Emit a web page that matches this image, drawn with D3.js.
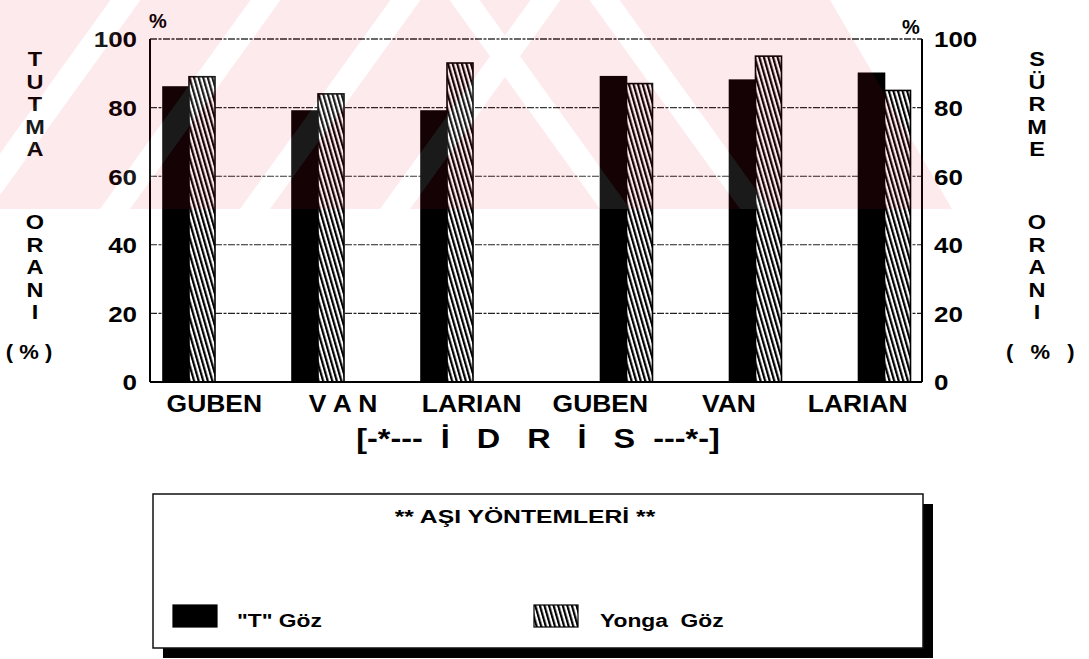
<!DOCTYPE html>
<html>
<head>
<meta charset="utf-8">
<script src="https://cdn.jsdelivr.net/npm/d3@7"></script>
<style>
  body { margin: 0; background: #fff; }
  svg { display: block; }
  text { font-family: "Liberation Sans", Arial, sans-serif; font-weight: bold; fill: #000; }
</style>
</head>
<body>
<svg id="chart" width="1089" height="659"></svg>
<script>
// ---- data ----
const categories = ["GUBEN", "V A N", "LARIAN", "GUBEN", "VAN", "LARIAN"];
const tGoz = [86, 79, 79, 89, 88, 90];        // "T" Göz (left axis, tutma oranı)
const yongaGoz = [89, 84, 93, 87, 95, 85];    // Yonga Göz (right axis, sürme oranı)
const seriesNames = ['"T" Göz', "Yonga  Göz"];
const yTicks = [0, 20, 40, 60, 80, 100];
const leftTitleWords = ["TUTMA", "ORANI"];
const rightTitleWords = ["SÜRME", "ORANI"];
const unitLabel = "( % )";
const groupLabel = "[-*---  İ   D   R   İ   S  ---*-]";
const legendTitle = "** AŞI YÖNTEMLERİ **";

// ---- layout ----
const W = 1089, H = 659;
const plot = { left: 150, right: 922, top: 39, bottom: 382 };
const SX = 1.18; // wide lettering of the plotter font

const svg = d3.select("#chart");

const defs = svg.append("defs");
const hatch = defs.append("pattern")
  .attr("id", "hatch")
  .attr("patternUnits", "userSpaceOnUse")
  .attr("width", 4.4).attr("height", 20)
  .attr("patternTransform", "rotate(-16)");
hatch.append("rect").attr("width", 4.4).attr("height", 20).attr("fill", "#fff");
hatch.append("rect").attr("width", 2.2).attr("height", 20).attr("fill", "#000");

const y = d3.scaleLinear().domain([0, 100]).range([plot.bottom, plot.top]);

// two blocks of three cultivars with a wider gap between the blocks
const blockOf = i => Math.floor(i / 3);
const xBlock = d3.scaleBand().domain([0, 1]).range([124.5, 949]).paddingInner(0.1154);
const xInner = d3.scaleBand().domain([0, 1, 2]).range([0, xBlock.bandwidth()]);
const center = i => xBlock(blockOf(i)) + xInner(i % 3) + xInner.bandwidth() / 2;
const xSeries = d3.scaleBand().domain([0, 1]).range([-26, 26]);
// category names are spread evenly under the axis
const xLabel = d3.scaleBand().domain(d3.range(categories.length)).range([plot.left, plot.right]);

function wideText(sel, x, yPos, sx) {
  return sel.attr("transform", `translate(${x},${yPos}) scale(${sx},1)`);
}

// ---- grid ----
svg.append("g")
  .selectAll("line")
  .data(yTicks.filter(t => t > 0))
  .join("line")
  .attr("x1", plot.left).attr("x2", plot.right)
  .attr("y1", d => y(d)).attr("y2", d => y(d))
  .attr("stroke", "#222")
  .attr("stroke-width", d => d === 100 ? 1.6 : 1.1)
  .attr("stroke-dasharray", "7,1.5,3,1.5");

// ---- bars ----
const rows = categories.map((c, i) => ({ i, c, vals: [tGoz[i], yongaGoz[i]] }));
const gBars = svg.append("g");
gBars.selectAll("g")
  .data(rows)
  .join("g")
  .attr("transform", d => `translate(${center(d.i)},0)`)
  .selectAll("rect")
  .data(d => d.vals.map((v, s) => ({ v, s })))
  .join("rect")
  .attr("x", d => xSeries(d.s))
  .attr("width", xSeries.bandwidth())
  .attr("y", d => y(d.v))
  .attr("height", d => y(0) - y(d.v))
  .attr("fill", d => d.s === 0 ? "#000" : "url(#hatch)")
  .attr("stroke", "#000")
  .attr("stroke-width", 1.6);

// ---- frame ----
const frame = svg.append("g").attr("stroke", "#000").attr("fill", "none");
frame.append("line").attr("x1", plot.left).attr("x2", plot.left).attr("y1", plot.top).attr("y2", plot.bottom).attr("stroke-width", 2);
frame.append("line").attr("x1", plot.right).attr("x2", plot.right).attr("y1", plot.top).attr("y2", plot.bottom).attr("stroke-width", 2);
frame.append("line").attr("x1", plot.left).attr("x2", plot.right).attr("y1", plot.bottom).attr("y2", plot.bottom).attr("stroke-width", 2);

// ---- axes ----
const axisL = svg.append("g").attr("transform", `translate(${plot.left},0)`)
  .call(d3.axisLeft(y).tickValues(yTicks).tickSize(0).tickPadding(0));
axisL.select(".domain").remove();
axisL.selectAll("text").attr("font-size", 22).attr("font-family", null)
  .attr("x", null).attr("dy", "0.36em")
  .attr("transform", `translate(-13,0) scale(${SX},1)`);

const axisR = svg.append("g").attr("transform", `translate(${plot.right},0)`)
  .call(d3.axisRight(y).tickValues(yTicks).tickSize(0).tickPadding(0));
axisR.select(".domain").remove();
axisR.selectAll("text").attr("font-size", 22).attr("font-family", null)
  .attr("x", null).attr("dy", "0.36em")
  .attr("transform", `translate(12,0) scale(${SX},1)`);

// percent marks above each axis
svg.append("text").text("%").attr("font-size", 20).attr("text-anchor", "middle")
  .call(wideText, 158, 28, 1);
svg.append("text").text("%").attr("font-size", 20).attr("text-anchor", "middle")
  .call(wideText, 911, 34, 1);

// ---- vertical axis titles (stacked letters) ----
function stackedTitle(words, cx, tops, unitX, unitSpacing) {
  const g = svg.append("g");
  words.forEach((w, k) => {
    g.append("g").selectAll("text")
      .data(Array.from(w))
      .join("text")
      .attr("text-anchor", "middle")
      .attr("font-size", 21)
      .text(d => d)
      .attr("transform", (d, j) => `translate(${cx},${tops[k] + 16 + j * 22.6}) scale(1.12,1)`);
  });
  g.append("text").attr("text-anchor", "middle").attr("font-size", 20)
    .style("white-space", "pre")
    .style("letter-spacing", unitSpacing + "px")
    .text(unitLabel)
    .call(wideText, unitX, 359, 1.1);
}
stackedTitle(leftTitleWords, 35, [50, 213], 29, 0);
stackedTitle(rightTitleWords, 1037, [50, 213], 1043, 5);

// ---- category labels ----
svg.append("g").selectAll("text")
  .data(categories)
  .join("text")
  .attr("text-anchor", "middle")
  .attr("font-size", 23)
  .style("white-space", "pre")
  .text(d => d)
  .attr("transform", (d, i) => `translate(${xLabel(i) + xLabel.bandwidth() / 2},412) scale(1.15,1)`);

svg.append("text")
  .attr("text-anchor", "middle")
  .attr("font-size", 27)
  .style("white-space", "pre")
  .text(groupLabel)
  .call(wideText, 538, 448, 1.2);

// ---- legend ----
const lg = { x: 153, y: 494, w: 770, h: 154 };
svg.append("rect").attr("x", lg.x + 10).attr("y", lg.y + 10).attr("width", lg.w).attr("height", lg.h).attr("fill", "#000");
svg.append("rect").attr("x", lg.x).attr("y", lg.y).attr("width", lg.w).attr("height", lg.h)
  .attr("fill", "#fff").attr("stroke", "#111").attr("stroke-width", 1.5);
svg.append("text").attr("text-anchor", "middle").attr("font-size", 19)
  .text(legendTitle)
  .call(wideText, 525, 523, 1.3);

const legendItems = svg.append("g").selectAll("g")
  .data(seriesNames)
  .join("g")
  .attr("transform", (d, s) => `translate(${[173, 534][s]},605)`);
legendItems.append("rect")
  .attr("width", 44).attr("height", 22)
  .attr("fill", (d, s) => s === 0 ? "#000" : "url(#hatch)")
  .attr("stroke", "#000").attr("stroke-width", 1.2);
legendItems.append("text")
  .attr("font-size", 19)
  .style("white-space", "pre")
  .text(d => d)
  .attr("transform", (d, s) => `translate(${[64, 66][s]},22) scale(1.2,1)`);

// ---- faint diagonal watermark band over the upper page ----
const band = [[0, 0], [830, 0], [952, 209], [0, 209]];
const stripesUp = [-40, 100, 240, 380];       // "/" stripes, x where they meet the band bottom
const stripesDown = [600, 740];               // "\" stripes
const stripeW = 30, run = 0.72 * 209;
const stripePolys = [
  ...stripesUp.map(x0 => [[x0, 209], [x0 + stripeW, 209], [x0 + stripeW + run, 0], [x0 + run, 0]]),
  ...stripesDown.map(x0 => [[x0, 209], [x0 + stripeW, 209], [x0 + stripeW - run, 0], [x0 - run, 0]])
];
const line = d3.line();
const mask = defs.append("mask").attr("id", "wmMask");
mask.append("rect").attr("width", W).attr("height", H).attr("fill", "#fff");
mask.selectAll("path").data(stripePolys).join("path").attr("d", p => line(p) + "Z").attr("fill", "#000");
const wm = svg.append("g").style("pointer-events", "none");
wm.append("path").attr("d", line(band) + "Z").attr("fill", "rgb(225,20,50)").attr("fill-opacity", 0.09)
  .attr("mask", "url(#wmMask)");
const clip = defs.append("clipPath").attr("id", "wmClip");
clip.append("path").attr("d", line(band) + "Z");
wm.append("g").attr("clip-path", "url(#wmClip)")
  .selectAll("path").data(stripePolys).join("path")
  .attr("d", p => line(p) + "Z").attr("fill", "#fff").attr("fill-opacity", 0.1);
</script>
</body>
</html>
